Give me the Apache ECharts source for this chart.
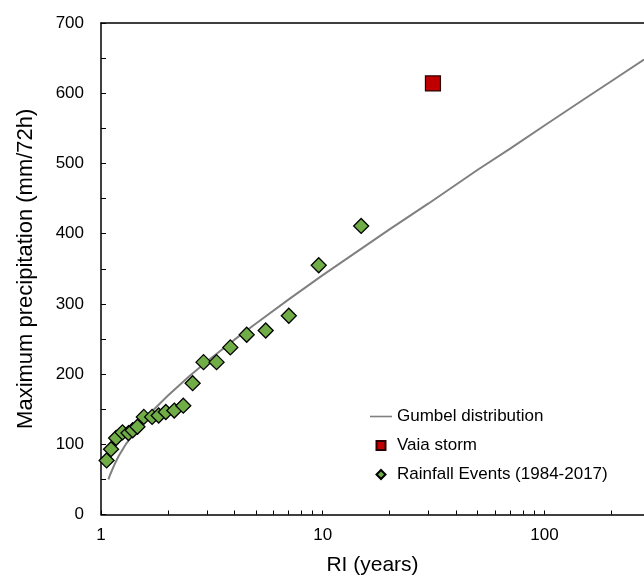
<!DOCTYPE html>
<html>
<head>
<meta charset="utf-8">
<script src="https://cdn.jsdelivr.net/npm/echarts@6/dist/echarts.min.js"></script>
<style>
html,body{margin:0;padding:0;background:#fff;}
#chart{width:644px;height:579px;}
</style>
</head>
<body>
<div id="chart"></div>
<script>
// Rainfall events (return interval in years, max precipitation mm/72h)
const rainRI = [1.06,1.11,1.17,1.25,1.33,1.39,1.46,1.56,1.70,1.82,1.96,2.14,2.35,2.59,2.90,3.32,3.83,4.54,5.53,7.03,9.59,14.9];
const rainP  = [77,93,109,117,116,120,125,139,139,141,146,148,155,187,217,217,238,256,262,283,355,411];
// Vaia storm
const vaiaRI = [31.4];
const vaiaP  = [614];
// Gumbel distribution curve
const gumbelRI = [1.08,1.1,1.15,1.2,1.3,1.5,1.75,2,2.5,3,4,5,7,10,15,20,30,50,70,100,150,200,281];
const gumbelP  = [50,57,71,83,101,128,151,169,197,218,249,272,306,341,379,406,443,491,521,554,591,617,648];
// Axis ticks
const xMinorTicks = [1,2,3,4,5,6,7,8,9,10,20,30,40,50,60,70,80,90,100,200];
const xLabels = [1,10,100];
const yLabels = [0,100,200,300,400,500,600,700];

const zip = (a,b) => a.map((v,i) => [v, b[i]]);
const font = 'Liberation Sans, Arial, sans-serif';

const chart = echarts.init(document.getElementById('chart'), null, {renderer:'canvas'});
chart.setOption({
  animation: false,
  backgroundColor: '#fff',
  textStyle: {fontFamily: font},
  grid: {left: 101, right: 0, top: 23, bottom: 64.5, containLabel: false, outerBoundsMode: 'none'},
  legend: {
    data: [
      {name: 'Gumbel distribution', icon: 'path://M0,0 H22 V1.6 H0 Z', itemStyle: {color: '#808080', borderWidth: 0}},
      {name: 'Vaia storm', icon: 'path://M0,0 H10 V10 H0 Z'},
      {name: 'Rainfall Events (1984-2017)', icon: 'path://M5,0 L10,5 L5,10 L0,5 Z'}
    ],
    orient: 'vertical',
    left: 370, top: 407,
    padding: 0,
    symbolKeepAspect: true,
    itemWidth: 22, itemHeight: 9, itemGap: 10,
    textStyle: {fontSize: 17, color: '#000', fontFamily: font, lineHeight: 19}
  },
  xAxis: [{
    type: 'log', logBase: 10, min: 1, max: 281,
    position: 'bottom',
    axisLine: {show: true, lineStyle: {color: '#000', width: 1.5}},
    axisTick: {show: true, inside: true, length: 4, customValues: xMinorTicks, lineStyle: {color: '#000', width: 1}},
    minorTick: {show: false},
    axisLabel: {color: '#000', fontSize: 17, margin: 12, fontFamily: font, customValues: xLabels},
    splitLine: {show: false},
    name: 'RI (years)', nameLocation: 'middle', nameGap: 40,
    nameTextStyle: {fontSize: 21, color: '#000', fontFamily: font}
  }, {
    type: 'log', logBase: 10, min: 1, max: 281,
    position: 'top',
    axisLine: {show: true, lineStyle: {color: '#000', width: 1.5}},
    axisTick: {show: false},
    axisLabel: {show: false},
    splitLine: {show: false}
  }],
  yAxis: {
    type: 'value', min: 0, max: 700, interval: 50,
    axisLine: {show: true, lineStyle: {color: '#000', width: 1.5}},
    axisTick: {show: true, inside: true, length: 5, lineStyle: {color: '#000', width: 1}},
    axisLabel: {
      color: '#000', fontSize: 17, margin: 17, fontFamily: font,
      formatter: v => yLabels.indexOf(v) >= 0 ? String(v) : ''
    },
    splitLine: {show: false},
    name: 'Maximum precipitation (mm/72h)', nameLocation: 'middle', nameGap: 64, nameRotate: 90,
    nameTextStyle: {fontSize: 22, color: '#000', fontFamily: font}
  },
  series: [{
    name: 'Gumbel distribution',
    type: 'line',
    xAxisIndex: 0,
    data: zip(gumbelRI, gumbelP),
    symbol: 'none',
    showSymbol: false,
    smooth: false,
    lineStyle: {color: '#808080', width: 2},
    itemStyle: {color: '#808080'},
    z: 2
  }, {
    name: 'Vaia storm',
    type: 'scatter',
    xAxisIndex: 0,
    data: zip(vaiaRI, vaiaP),
    symbol: 'rect',
    symbolSize: 15,
    itemStyle: {color: '#C00000', borderColor: '#2b0000', borderWidth: 1.2, opacity: 1},
    z: 3
  }, {
    name: 'Rainfall Events (1984-2017)',
    type: 'scatter',
    xAxisIndex: 0,
    data: zip(rainRI, rainP),
    symbol: 'diamond',
    symbolSize: 15,
    itemStyle: {color: '#70AD47', borderColor: '#000', borderWidth: 1.3, opacity: 1},
    z: 3
  }]
});
</script>
</body>
</html>
